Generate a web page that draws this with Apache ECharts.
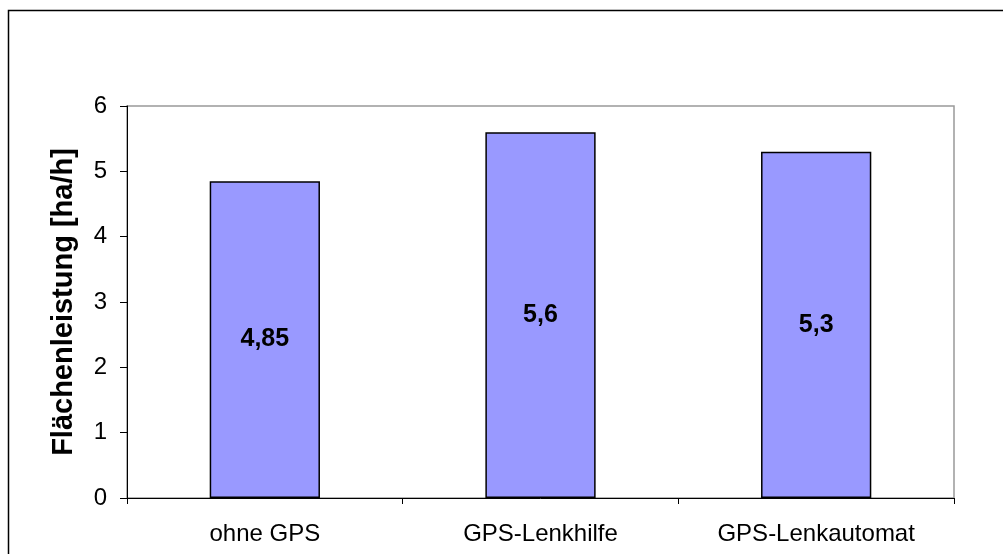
<!DOCTYPE html>
<html>
<head>
<meta charset="utf-8">
<script src="https://cdn.jsdelivr.net/npm/echarts@6/dist/echarts.min.js"></script>
<style>
  html, body { margin: 0; padding: 0; background: #fff; }
  #chart { width: 1003px; height: 554px; }
</style>
</head>
<body>
<div id="chart"></div>
<script>
// Flächenleistung je Lenksystem
const categories = ['ohne GPS', 'GPS-Lenkhilfe', 'GPS-Lenkautomat'];
const values = [4.85, 5.6, 5.3];
const yTicks = [0, 1, 2, 3, 4, 5, 6];
const yTitle = 'Flächenleistung [ha/h]';

const font = '"Liberation Sans", Arial, sans-serif';
const chart = echarts.init(document.getElementById('chart'), null, { renderer: 'canvas' });

chart.setOption({
  animation: false,
  backgroundColor: '#fff',
  graphic: [{
    type: 'rect',
    shape: { x: 8.5, y: 10.5, width: 1010, height: 600 },
    style: { fill: 'none', stroke: '#000', lineWidth: 1.5 },
    silent: true
  }],
  grid: {
    left: 127, right: 49, top: 106, bottom: 56,
    show: true, borderColor: '#999', borderWidth: 1.5, backgroundColor: '#fff'
  },
  xAxis: {
    type: 'category',
    data: categories,
    axisLine: { lineStyle: { color: '#000', width: 1 } },
    axisTick: { show: true, length: 6, lineStyle: { color: '#000' }, alignWithLabel: false },
    axisLabel: { color: '#000', fontSize: 24, fontFamily: font, margin: 24 },
    splitLine: { show: false }
  },
  yAxis: {
    type: 'value',
    min: yTicks[0], max: yTicks[yTicks.length - 1], interval: 1,
    name: yTitle,
    nameLocation: 'middle',
    nameGap: 49,
    nameTextStyle: { color: '#000', fontSize: 29, fontWeight: 'bold', fontFamily: font },
    axisLine: { show: true, lineStyle: { color: '#000', width: 1 } },
    axisTick: { show: true, length: 7, lineStyle: { color: '#000' } },
    axisLabel: { color: '#000', fontSize: 24, fontFamily: font, margin: 20 },
    splitLine: { show: false }
  },
  series: [{
    type: 'bar',
    data: values,
    barWidth: '40%',
    itemStyle: { color: '#9999FF', borderColor: '#000', borderWidth: 1.5 },
    label: {
      show: true,
      position: 'inside',
      color: '#000',
      fontSize: 25,
      fontWeight: 'bold',
      fontFamily: font,
      formatter: p => String(p.value).replace('.', ',')
    }
  }]
});
</script>
</body>
</html>
